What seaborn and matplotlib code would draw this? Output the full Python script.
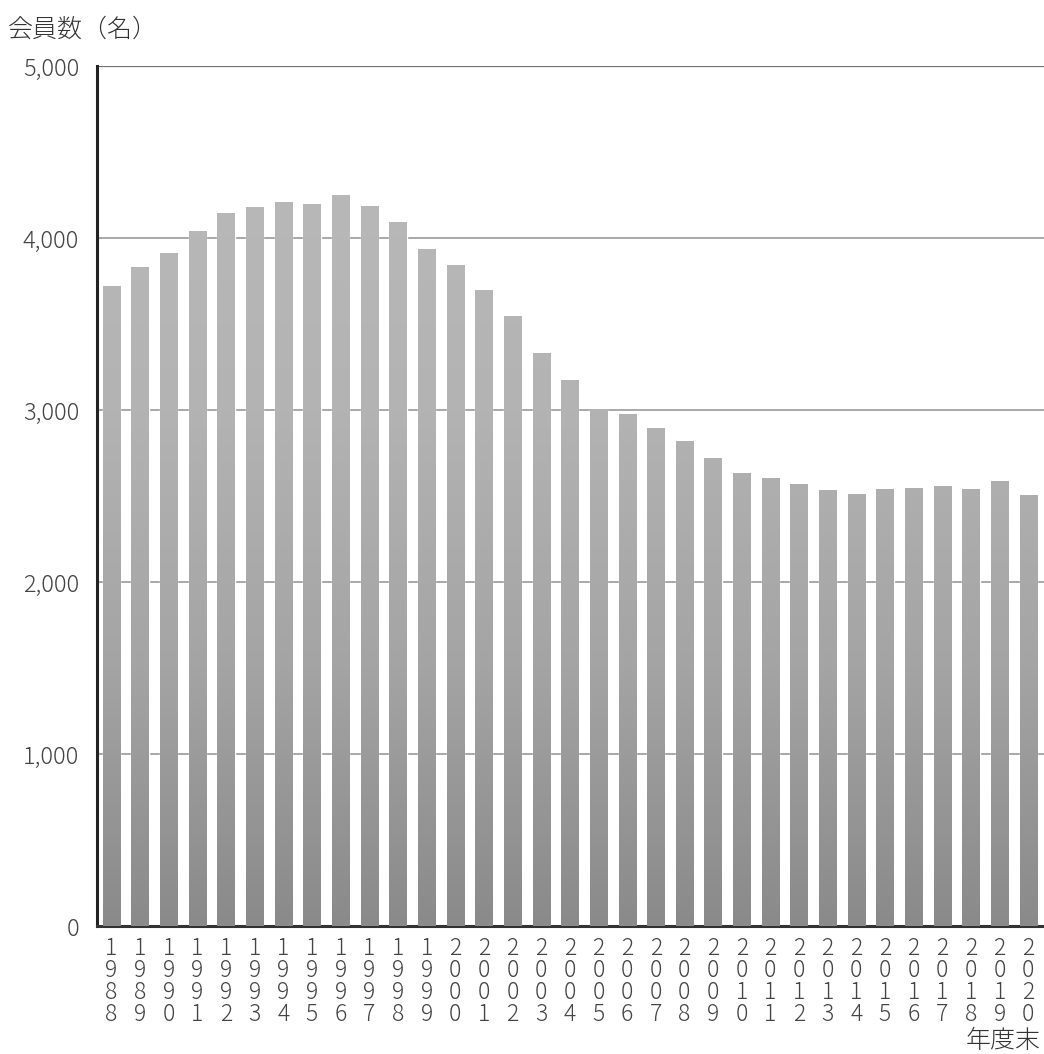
import numpy as np
import pandas as pd
import matplotlib
matplotlib.use("Agg")
import matplotlib.pyplot as plt
from matplotlib.colors import LinearSegmentedColormap
import seaborn as sns

# data
years = list(range(1988, 2021))
members = [3720, 3835, 3915, 4040, 4145, 4185, 4210, 4200, 4250, 4190,
           4095, 3940, 3845, 3700, 3550, 3335, 3175, 3010, 2980, 2895,
           2820, 2720, 2635, 2605, 2570, 2535, 2515, 2540, 2550, 2560,
           2540, 2590, 2510]
yticks = [0, 1000, 2000, 3000, 4000, 5000]

df = pd.DataFrame({"year": [str(y) for y in years], "members": members})

sns.set_style("white")
plt.rcParams["font.family"] = ["Noto Sans CJK JP", "DejaVu Sans"]
plt.rcParams["font.weight"] = "light"

fig = plt.figure(figsize=(10.44, 10.54), dpi=100)
ax = fig.add_axes([0.093, 0.1214, 0.907, 0.8156])

sns.barplot(data=df, x="year", y="members", color="#a8a8a8", width=0.6,
            saturation=1, ax=ax, zorder=2)

# vertical gradient inside the bars
cmap = LinearSegmentedColormap.from_list(
    "g", [(0, "#8a8a8a"), (0.3, "#a4a4a4"), (0.6, "#b3b3b3"), (1, "#bbbbbb")])
grad = np.linspace(0, 1, 256).reshape(-1, 1)
for p in ax.patches:
    im = ax.imshow(grad, cmap=cmap, aspect="auto", origin="lower",
                   extent=[-0.5, len(years) - 0.45, 0, 5000], zorder=3)
    im.set_clip_path(p)

ax.set_xlim(-0.5, len(years) - 0.45)
ax.set_ylim(0, 5000)

for v in yticks[1:]:
    ax.axhline(v, color="#707070" if v == 5000 else "#9a9a9a",
               lw=1.6 if v == 5000 else 1.2, zorder=1)

ax.set_yticks(yticks)
ax.set_yticklabels([f"{v:,}" for v in yticks], fontsize=17, color="#444444")
ax.set_xticks(range(len(years)))
ax.set_xticklabels(["\n".join(str(y)) for y in years], fontsize=16.5,
                   color="#444444", linespacing=0.84)
ax.set_xticks([i + 0.5 for i in range(len(years) - 1)], minor=True)
ax.tick_params(axis="x", which="major", length=0, pad=7)
ax.tick_params(axis="x", which="minor", direction="in", length=7,
               width=1.3, color="#222222")
ax.tick_params(axis="y", direction="in", length=5, width=1, color="#222222",
               pad=13)
ax.set_xlabel("")
ax.set_ylabel("")

for s in ["top", "right"]:
    ax.spines[s].set_visible(False)
ax.spines["left"].set_linewidth(2.2)
ax.spines["left"].set_color("#222222")
ax.spines["bottom"].set_linewidth(2.2)
ax.spines["bottom"].set_color("#333333")

fig.text(0.008, 0.972, "会員数（名）", fontsize=18, color="#333333",
         va="center", ha="left")
fig.text(0.997, 0.013, "年度末", fontsize=18, color="#333333",
         va="center", ha="right")

fig.savefig("out.png", dpi=100, facecolor="white")
